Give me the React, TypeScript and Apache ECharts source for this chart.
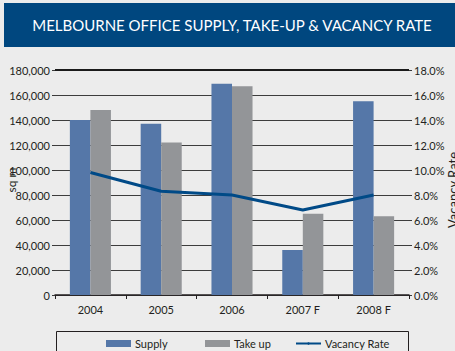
import React, { useEffect, useRef } from "react";
import * as echarts from "echarts";

const years = ["2004", "2005", "2006", "2007 F", "2008 F"];
const supply = [140000, 137000, 169000, 36000, 155000];
const takeUp = [148000, 122000, 167000, 65000, 63000];
const vacancyRate = [9.8, 8.3, 8.0, 6.8, 8.0];

const FONT = "Lato, 'Open Sans', sans-serif";
const TEXT = "#231f20";

export default function App() {
  const ref = useRef<HTMLDivElement>(null);

  useEffect(() => {
    if (!ref.current) return;
    const chart = echarts.init(ref.current, undefined, { renderer: "svg" });
    const legendBase = {
      top: 338,
      itemWidth: 25,
      itemHeight: 7,
      itemGap: 0,
      textStyle: { fontFamily: FONT, fontSize: 11, color: TEXT, padding: [0, 0, 0, -1] },
      padding: 0,
    };
    chart.setOption({
      animation: false,
      backgroundColor: "#ececec",
      textStyle: { fontFamily: FONT },
      graphic: [
        {
          type: "rect",
          shape: { x: 4, y: 3, width: 460, height: 44 },
          style: { fill: "#00477f" },
          z: 0,
        },
        {
          type: "text",
          x: 232,
          y: 25,
          style: {
            text: "MELBOURNE OFFICE SUPPLY, TAKE-UP & VACANCY RATE",
            fill: "#ffffff",
            font: `15px ${FONT}`,
            align: "center",
            verticalAlign: "middle",
          },
          z: 1,
        },
        {
          // left axis title
          type: "text",
          x: 11,
          y: 180,
          rotation: Math.PI / 2,
          style: {
            text: "sq m",
            fill: TEXT,
            font: `12px ${FONT}`,
            align: "center",
            verticalAlign: "middle",
          },
        },
        {
          // right axis title
          type: "text",
          x: 453,
          y: 190,
          rotation: Math.PI / 2,
          style: {
            text: "Vacancy Rate",
            fill: TEXT,
            font: `13px ${FONT}`,
            align: "center",
            verticalAlign: "middle",
          },
        },
        {
          type: "rect",
          shape: { x: 56.5, y: 331.5, width: 352, height: 40 },
          style: { fill: "none", stroke: "#231f20", lineWidth: 1 },
        },
      ],
      legend: [
        { ...legendBase, left: 106, data: [{ name: "Supply", icon: "rect" }] },
        { ...legendBase, left: 205, data: [{ name: "Take up", icon: "rect" }] },
        { ...legendBase, left: 295, itemHeight: 3, data: [{ name: "Vacancy Rate" }] },
      ],
      grid: {
        left: 55,
        right: 46,
        top: 70,
        bottom: 56,
        containLabel: false,
        outerBoundsMode: "none",
      },
      xAxis: {
        type: "category",
        data: years,
        axisLine: { lineStyle: { color: "#231f20", width: 1.5 } },
        axisTick: { show: true, length: 4, lineStyle: { color: "#231f20" } },
        axisLabel: { color: TEXT, fontSize: 11, margin: 9, fontFamily: FONT },
      },
      yAxis: [
        {
          type: "value",
          min: 0,
          max: 180000,
          interval: 20000,
          axisLine: { show: false },
          axisTick: { show: true, length: 3, lineStyle: { color: "#3a3a3a" } },
          axisLabel: {
            color: TEXT,
            fontSize: 11,
            margin: 5,
            fontFamily: FONT,
            formatter: (v: number) => v.toLocaleString("en-US"),
          },
          splitLine: { lineStyle: { color: "#3d3d3d", width: 1 } },
        },
        {
          type: "value",
          min: 0,
          max: 18,
          interval: 2,
          axisLine: { show: false },
          axisTick: { show: true, length: 3, lineStyle: { color: "#3a3a3a" } },
          axisLabel: {
            color: TEXT,
            fontSize: 11,
            margin: 5,
            fontFamily: FONT,
            formatter: (v: number) => v.toFixed(1) + "%",
          },
          splitLine: { show: false },
        },
      ],
      series: [
        {
          name: "Supply",
          type: "bar",
          data: supply,
          barGap: "0%",
          barCategoryGap: "42%",
          itemStyle: { color: "#5577a8" },
          markLine: {
            silent: true,
            symbol: "none",
            label: { show: false },
            lineStyle: { color: "#1a1a1a", width: 2, type: "solid" },
            data: [{ yAxis: 180000 }],
          },
        },
        {
          name: "Take up",
          type: "bar",
          data: takeUp,
          itemStyle: { color: "#939598" },
        },
        {
          name: "Vacancy Rate",
          type: "line",
          yAxisIndex: 1,
          data: vacancyRate,
          symbol: "none",
          lineStyle: { color: "#004a87", width: 3 },
          itemStyle: { color: "#004a87" },
          z: 5,
        },
      ],
    });
    return () => chart.dispose();
  }, []);

  return (
    <div
      ref={ref}
      style={{ position: "fixed", left: 0, top: 0, width: 455, height: 351 }}
    />
  );
}
